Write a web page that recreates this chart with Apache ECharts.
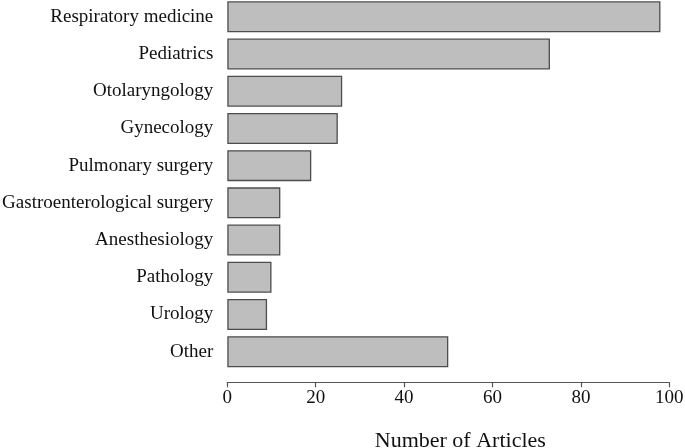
<!DOCTYPE html>
<html>
<head>
<meta charset="utf-8">
<script src="https://cdn.jsdelivr.net/npm/echarts@6/dist/echarts.min.js"></script>
<style>html,body{margin:0;padding:0;background:#fff}#c{width:685px;height:448px}</style>
</head>
<body>
<div id="c"></div>
<script>
const categories = ["Respiratory medicine","Pediatrics","Otolaryngology","Gynecology","Pulmonary surgery","Gastroenterological surgery","Anesthesiology","Pathology","Urology","Other"];
const articleCounts = [98,73,26,25,19,12,12,10,9,50];
const xTicks = [0,20,40,60,80,100];

const chart = echarts.init(document.getElementById('c'));
const font = '"Liberation Serif", "Times New Roman", serif';
chart.setOption({
  animation: false,
  grid: {left: 227.3, right: 15.7, top: -1.8, bottom: 77.7, containLabel: false, outerBoundsMode: 'none'},
  xAxis: {
    type: 'value', min: xTicks[0], max: xTicks[xTicks.length-1], interval: 20,
    offset: 12,
    name: 'Number of Articles', nameLocation: 'middle', nameGap: 48,
    nameTextStyle: {fontFamily: font, fontSize: 22, color: '#111', padding: [0,0,0,24]},
    axisLine: {show: true, lineStyle: {color: '#555', width: 1.2}},
    axisTick: {show: true, length: 5, lineStyle: {color: '#555', width: 1.2}},
    axisLabel: {fontFamily: font, fontSize: 19, color: '#111', margin: 6},
    splitLine: {show: false}
  },
  yAxis: {
    type: 'category', data: categories, inverse: true,
    axisLine: {show: false}, axisTick: {show: false},
    axisLabel: {fontFamily: font, fontSize: 19, color: '#111', margin: 14}
  },
  series: [{
    type: 'bar', data: articleCounts, barCategoryGap: '16.7%',
    itemStyle: {color: '#bebebe', borderColor: '#4d4d4d', borderWidth: 1.3}
  }]
});
</script>
</body>
</html>
